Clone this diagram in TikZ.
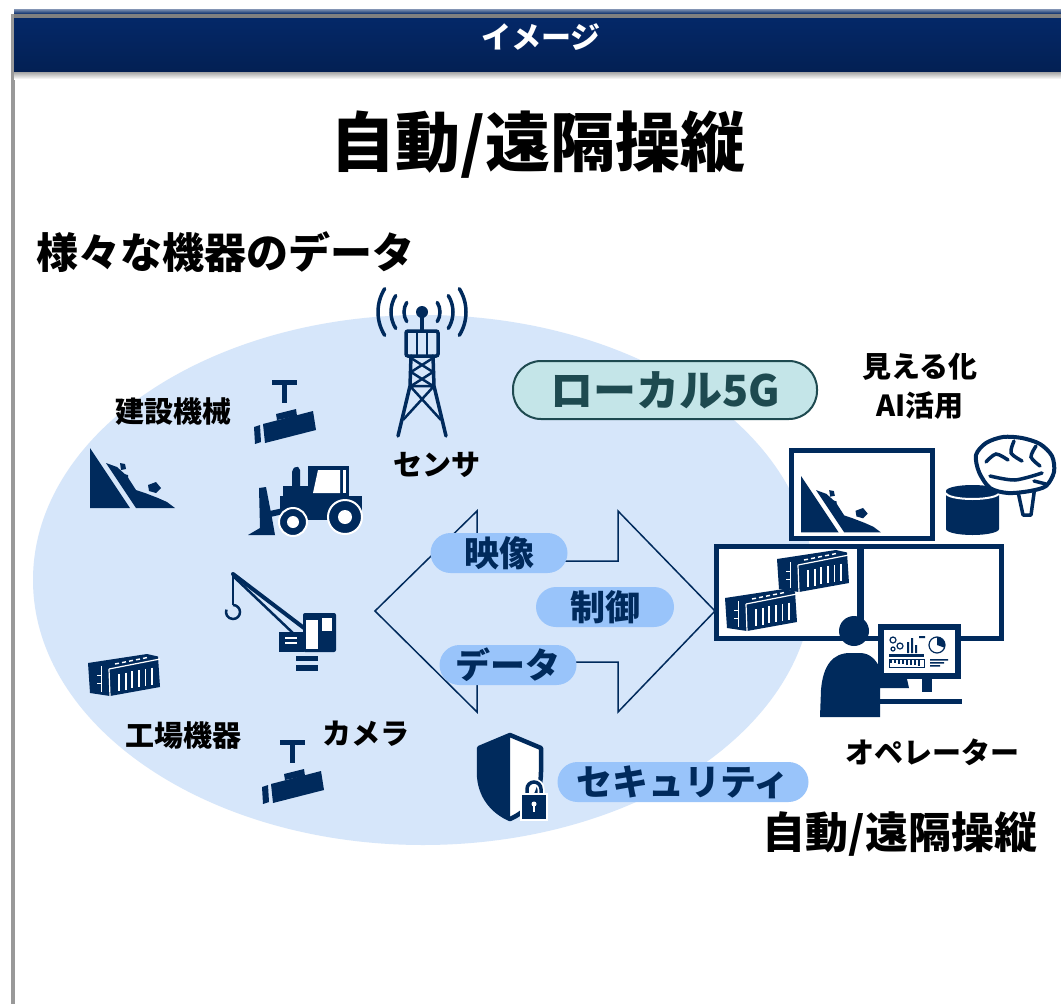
\documentclass[tikz,border=0pt]{standalone}
\usepackage{fontspec}
\setmainfont{Noto Sans CJK JP}
\usetikzlibrary{positioning}
\definecolor{navy}{RGB}{0,42,92}
\definecolor{barblue}{RGB}{4,40,104}
\definecolor{skyfill}{RGB}{214,230,250}
\definecolor{pillblue}{RGB}{153,196,250}
\definecolor{tealfill}{RGB}{196,229,232}
\definecolor{tealdark}{RGB}{30,74,80}

\begin{document}
\begin{tikzpicture}
	[x=1pt,y=-1pt,
	 lbl/.style={font=\fontsize{29}{29}\selectfont\bfseries},
	 pill/.style={fill=pillblue,rounded corners=20pt,minimum height=40pt,inner sep=0pt,text=navy,font=\fontsize{35}{35}\selectfont\bfseries},
	 frame/.style={draw=navy,line width=5,fill=white}]

\useasboundingbox (0,0) rectangle (1061,1004);
\fill[white] (0,0) rectangle (1061,1004);

% header bar
\fill[gray!80] (11,14) rectangle (15,1004);
\shade[top color=barblue!50!white,bottom color=barblue] (14,9) rectangle (1061,14);
\fill[gray] (14,14) rectangle (1061,18);
\shade[top color=barblue,bottom color=barblue!80!black] (14,18) rectangle (1061,72);
\shade[top color=gray!70,bottom color=white] (14,72) rectangle (1061,79);
\node[text=white,font=\fontsize{30}{30}\selectfont\bfseries] (head) at (541,37) {イメージ};

\node[font=\fontsize{65}{65}\selectfont\bfseries] (title) at (538,145) {自動/遠隔操縦};
\node[font=\fontsize{42}{42}\selectfont\bfseries,anchor=west] (devices) at (33,252) {様々な機器のデータ};

% field area
\fill[skyfill] (423,580) ellipse [x radius=390,y radius=265];

% two-way arrow
\draw[navy,line width=1.5] (375,611)--(477,511)--(477,561)--(618,561)--(618,511)--(715,611)--(618,712)--(618,662)--(477,662)--(477,712)--cycle;

% antenna tower
\fill[navy] (422,312) circle (6);
\draw[navy,line width=3.5] (422,312)--(422,332);
\foreach \r in {18,31,44}
{
 \draw[navy,line width=3.5,line cap=round] (422,312)++(-32:\r) arc[start angle=-32,end angle=32,radius=\r];
 \draw[navy,line width=3.5,line cap=round] (422,312)++(148:\r) arc[start angle=148,end angle=212,radius=\r];
}
\draw[navy,line width=3.5,rounded corners=2] (406,331) rectangle (438,356);
\draw[navy,line width=2.5] (417,331)--(417,356) (427,331)--(427,356);
\draw[navy,line width=3.5,line cap=round] (411,356)--(410,386)--(398,436) (433,356)--(434,386)--(446,436);
\draw[navy,line width=2.5] (411,358)--(433,372)--(411,386) (433,358)--(411,372)--(433,386);
\draw[navy,line width=2.5] (410,386)--(441,420) (434,386)--(403,420) (409,386)--(435,386);

% landslide
\foreach \lx/\ly/\ls in {90/448/1}
{
 \begin{scope}[shift={(\lx,\ly)},scale=\ls]
  \fill[navy] (0,0)--(0,60)--(40,60)--cycle;
  \fill[navy] (16,15)--(46,60)--(85,60)--(77,54)--(68,50)--(55,45)--(46,42)--(37,28)--(27,19)--cycle;
  \fill[navy] (30,15)--(35,16)--(36,21)--(31,22)--cycle;
  \fill[navy] (34,26)--(38,27)--(38,31)--(33,31)--cycle;
  \fill[navy] (58,37)--(66,34)--(71,40)--(66,45)--(59,43)--cycle;
 \end{scope}
}

% security cameras
\foreach \cx/\cy in {285/380,293/740}
{
 \begin{scope}[shift={(\cx,\cy)}]
  \fill[navy] (-13,0) rectangle (12,5);
  \fill[navy] (-3,5) rectangle (2,23);
  \fill[navy] (-8,40)--(-9,34)--(11,29)--(12,36)--cycle;
  \fill[navy] (-22,44)--(28,31)--(31,50)--(-20,63)--cycle;
  \fill[navy] (-31,47)--(-25,45)--(-24,62)--(-30,64)--cycle;
 \end{scope}
}

% wheel loader
\fill[navy] (308,466) rectangle (349,497);
\fill[white] (318,470)--(340,470)--(340,493)--(313,493)--cycle;
\fill[white] (343,470) rectangle (346,493);
\fill[navy,rounded corners=2] (292,488)--(292,470)--(296,466)--(300,468)--(300,488)--cycle;
\fill[navy] (283,486) rectangle (313,500);
\fill[navy] (280,496) rectangle (362,520);
\draw[navy,line width=6] (270,514)--(288,510);
\fill[navy] (259,488)--(266,487)--(272,518)--(275,535)--(248,535)--(260,528)--cycle;
\filldraw[navy,draw=white,line width=2] (345,517) circle (17);
\fill[white] (345,517) circle (7);
\filldraw[navy,draw=white,line width=2] (293,522) circle (14);
\fill[white] (293,522) circle (6);

% crawler crane
\draw[navy,line width=4,line cap=round] (233,574)--(304,628);
\draw[navy,line width=2.5] (233,576)--(294,634);
\draw[navy,line width=2] (233,574)--(233,605);
\draw[navy,line width=2.5] (233,605) arc[start angle=-90,end angle=200,radius=7];
\fill[navy,rounded corners=2] (303,613) rectangle (336,652);
\fill[white] (306,620) rectangle (318,649);
\fill[white] (322,618) rectangle (332,631);
\fill[navy] (279,632) rectangle (304,652);
\fill[white] (285,637) rectangle (297,639);
\fill[white] (285,642) rectangle (297,644);
\fill[navy] (296,656) rectangle (318,661);
\fill[navy] (296,665) rectangle (318,671);

% monitor wall
\draw[frame] (791,450) rectangle (932,538);
\draw[frame] (716,546) rectangle (859,638);
\draw[frame] (861,546) rectangle (1001,638);
\foreach \lx/\ly/\ls in {801/476/0.94}
{
 \begin{scope}[shift={(\lx,\ly)},scale=\ls]
  \fill[navy] (0,0)--(0,60)--(40,60)--cycle;
  \fill[navy] (16,15)--(46,60)--(85,60)--(77,54)--(68,50)--(55,45)--(46,42)--(37,28)--(27,19)--cycle;
  \fill[navy] (30,15)--(35,16)--(36,21)--(31,22)--cycle;
  \fill[navy] (34,26)--(38,27)--(38,31)--(33,31)--cycle;
  \fill[navy] (58,37)--(66,34)--(71,40)--(66,45)--(59,43)--cycle;
 \end{scope}
}

% containers
\foreach \kx/\ky in {88/655,777/551,725/590}
{
 \begin{scope}[shift={(\kx,\ky)}]
  \fill[navy] (0,8)--(59,-1)--(70,1.5)--(72,32)--(22,41)--(2,38)--cycle;
  \draw[white,line width=1.2] (21,14)--(22,41) (21,14)--(72,4);
  \foreach \s in {0,...,5}
   \draw[white,line width=1.8] (31+6.6*\s,19-1.3*\s)--(31+6.6*\s,36-1.3*\s);
  \foreach \s in {0,...,4}
   \draw[white,line width=1.4] (27+7*\s,9-1.4*\s)--(31+7*\s,8.2-1.4*\s);
  \draw[white,line width=1] (13,11)--(13,37);
  \draw[white,line width=1] (9,20)--(13,20) (9,28)--(13,28);
 \end{scope}
}

% database and brain
\fill[navy] (946,491)--(946,529) arc[start angle=180,end angle=0,x radius=26.5,y radius=6]--(999,491) arc[start angle=0,end angle=-180,x radius=26.5,y radius=6]--cycle;
\draw[white,line width=2] (946,493) arc[start angle=180,end angle=0,x radius=26.5,y radius=6];
\draw[navy,line width=3.5,fill=white,line join=round] (1017,487)--(1023,515)--(1031,515)--(1035,486);
\draw[navy,line width=4,fill=white] plot[smooth cycle] coordinates {(979,472) (976,455) (986,443) (1003,437) (1022,438) (1040,444) (1052,456) (1054,472) (1046,486) (1030,491) (1008,493) (990,488)};
\draw[navy,line width=3.5,line cap=round] plot[smooth] coordinates {(986,462) (996,454) (1008,460)};
\draw[navy,line width=3.5,line cap=round] plot[smooth] coordinates {(1014,441) (1011,453) (1022,461)};
\draw[navy,line width=3.5,line cap=round] plot[smooth] coordinates {(1036,446) (1031,457) (1040,466)};
\draw[navy,line width=3.5,line cap=round] plot[smooth] coordinates {(990,476) (1015,480) (1042,473)};
\draw[navy,line width=3.5,line cap=round] plot[smooth] coordinates {(1034,481) (1046,484)};

% operator at the desk
\fill[navy] (854,631) circle (15);
\fill[navy] (820,717)--(821,690) .. controls (823,665) and (833,653) .. (850,653)--(860,653) .. controls (870,653) and (876,660) .. (880,668)--(886,679)--(907,679)--(909,688)--(880,688)--(880,717)--cycle;
\fill[navy] (872,699) rectangle (962,704);
\fill[navy] (878,624) rectangle (961,679);
\fill[white] (884,630) rectangle (955,673);
\fill[navy] (922,679) rectangle (932,692);
\draw[navy,line width=1.2] (893,640) circle (3) (900,646) circle (3) (893,649) circle (2);
\fill[navy] (907,642) rectangle (909,653) (911,638) rectangle (913,653) (915,645) rectangle (917,653) (919,636) rectangle (925,638);
\draw[navy,line width=1.2] (937,645) circle (8);
\fill[navy] (937,645)--(937,637) arc[start angle=-90,end angle=20,radius=8]--cycle;
\fill[navy] (889,654) rectangle (924,657);
\draw[navy,line width=1] (889,659) rectangle (924,667);
\foreach \t in {0,...,7}
 \fill[navy] (890+4*\t,660) rectangle (892+4*\t,663+0.4*\t);
\fill[navy] (930,659) rectangle (948,660.5) (930,662) rectangle (944,663.5) (930,665) rectangle (940,666.5);

% shield and padlock
\fill[white] (510,735)--(479,748)--(479,772) .. controls (479,797) and (494,812) .. (510,819) .. controls (526,812) and (541,797) .. (541,772)--(541,748)--cycle;
\fill[navy] (510,735)--(479,748)--(479,772) .. controls (479,797) and (494,812) .. (510,819)--cycle;
\draw[navy,line width=4.5,line join=round] (510,735)--(479,748)--(479,772) .. controls (479,797) and (494,812) .. (510,819) .. controls (526,812) and (541,797) .. (541,772)--(541,748)--cycle;
\draw[white,line width=7] (527,796)--(527,789) arc[start angle=180,end angle=360,radius=7]--(541,796);
\draw[navy,line width=3.5] (527,796)--(527,789) arc[start angle=180,end angle=360,radius=7]--(541,796);
\filldraw[navy,draw=white,line width=2] (521,794) rectangle (547,820);
\fill[white] (534,804) circle (2.5);
\fill[white] (533,804) rectangle (535,812);

% labels
\node[draw=tealdark,line width=2,fill=tealfill,rounded corners=28pt,minimum width=304pt,minimum height=58pt,inner sep=0pt,text=tealdark,font=\fontsize{43}{43}\selectfont\bfseries] (l5g) at (665,390) {ローカル5G};
\node[pill,minimum width=137pt] (video) at (499,553) {映像};
\node[pill,minimum width=138pt] (ctrl) at (605,607) {制御};
\node[pill,minimum width=137pt] (dat) at (508,665) {データ};
\node[pill,minimum width=251pt,font=\fontsize{36}{36}\selectfont\bfseries] (sec) at (683,782) {セキュリティ};

\node[lbl] (kenki) at (173,412) {建設機械};
\node[lbl] (sensor) at (437,465) {センサ};
\node[lbl] (factory) at (183,736) {工場機器};
\node[lbl] (cam) at (366,734) {カメラ};
\node[lbl] (vis) at (920,367) {見える化};
\node[lbl,below=4pt of vis] (ai) {AI活用};
\node[lbl] (op) at (932,752) {オペレーター};
\node[font=\fontsize{43}{43}\selectfont\bfseries] (remote) at (900,834) {自動/遠隔操縦};

\end{tikzpicture}
\end{document}
